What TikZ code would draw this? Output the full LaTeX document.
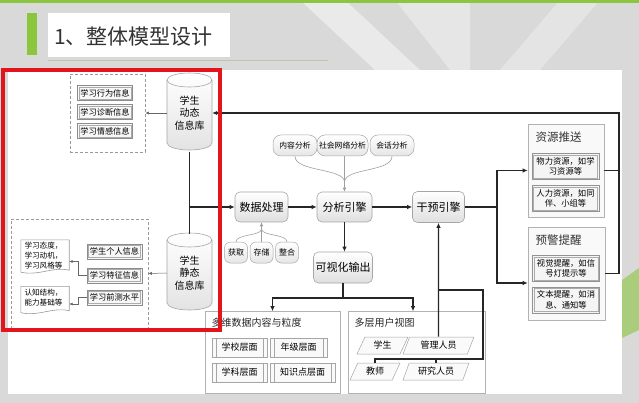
\documentclass[tikz,border=0pt]{standalone}
\usepackage{fontspec}
\setmainfont{Noto Sans CJK SC}
\usetikzlibrary{shapes.geometric,arrows.meta,calc}
\definecolor{bggray}{HTML}{D9D9D9}
\definecolor{tgreen}{HTML}{8CC63F}
\definecolor{uline}{HTML}{BCC6A8}
\definecolor{redframe}{HTML}{E3141B}
\begin{document}
\begin{tikzpicture}[x=1pt,y=-1pt,
  line/.style={draw=black!85, line width=1.1pt},
  arr/.style={line, -{Latex[length=5pt,width=4.5pt]}},
  thinarr/.style={draw=black!60, line width=0.5pt, -{Latex[length=3.5pt,width=3pt]}},
  rbox/.style={draw=gray!70, line width=0.6pt, rounded corners=5pt, top color=white, bottom color=gray!25, font=\fontsize{11}{13}\selectfont, inner sep=0pt},
  pill/.style={draw=gray!70, line width=0.5pt, rounded corners=8pt, top color=white, bottom color=gray!20, font=\fontsize{7.8}{9}\selectfont, inner sep=0pt, minimum height=21pt},
  dashbox/.style={draw=gray!80, line width=0.7pt, dash pattern=on 3pt off 2pt},
  dblframe/.style={path picture={\draw[gray!65, line width=0.4pt] ([shift={(1.6pt,-1.6pt)}]path picture bounding box.north west) rectangle ([shift={(-1.6pt,1.6pt)}]path picture bounding box.south east);}},
  infobox/.style={draw=gray!90, line width=0.7pt, fill=gray!6, dblframe, font=\fontsize{8.2}{10}\selectfont, inner sep=0pt, minimum width=55pt, minimum height=15pt},
  docnode/.style={font=\fontsize{7.6}{9.6}\selectfont, align=left, inner sep=0pt, minimum width=48pt},
  docshape/.style={draw=gray!80, line width=0.6pt, fill=white},
  outerbox/.style={draw=gray!60, line width=0.7pt, fill=gray!5},
  titletext/.style={font=\fontsize{11.5}{13}\selectfont, anchor=west, text=black!80},
  innerbox/.style={draw=gray!85, line width=0.6pt, fill=gray!8, dblframe, font=\fontsize{8.3}{10.5}\selectfont, align=center, inner sep=0pt, minimum width=67pt},
  grpbox/.style={draw=gray!60, line width=0.6pt, fill=white},
  grplabel/.style={font=\fontsize{10}{12}\selectfont, anchor=west, text=black!85},
  ppbox/.style={draw=gray!70, line width=0.5pt, fill=gray!5, minimum height=19pt, inner sep=0pt, font=\fontsize{9}{11}\selectfont,
    path picture={\draw[gray!70, line width=0.5pt] ([xshift=4pt]path picture bounding box.north west) -- ([xshift=4pt]path picture bounding box.south west);
                  \draw[gray!70, line width=0.5pt] ([xshift=-4pt]path picture bounding box.north east) -- ([xshift=-4pt]path picture bounding box.south east);}},
  para/.style={trapezium, trapezium left angle=64, trapezium right angle=116, trapezium stretches=true, draw=gray!70, line width=0.5pt, fill=gray!4, minimum height=17pt, inner sep=0pt, font=\fontsize{9}{11}\selectfont},
  cylstyle/.style={draw=gray!70, line width=0.6pt, top color=white, bottom color=gray!22},
  cylnode/.style={minimum width=45pt, minimum height=77pt, inner sep=0pt, align=center, font=\fontsize{10}{12.5}\selectfont}
]
\useasboundingbox (0,0) rectangle (639,403);
% background
\fill[bggray] (0,0) rectangle (639,403);
\fill[white,opacity=0.45] (300,0) -- (345,0) -- (420,70) -- (375,70) -- cycle;
\fill[white,opacity=0.35] (395,0) -- (470,0) -- (470,70) -- (450,70) -- cycle;
\fill[white,opacity=0.30] (560,0) -- (600,0) -- (540,70) -- (500,70) -- cycle;
\fill[tgreen,opacity=0.6] (622,280) -- (639,268) -- (639,330) -- (622,338) -- cycle;
\fill[tgreen] (0,0) rectangle (639,3);
\fill[white] (8,70) rectangle (622,394);
% title
\fill[tgreen] (27,13) rectangle (37,55);
\fill[white] (48,13) rectangle (230,57);
\node[font=\fontsize{21}{24}\selectfont, text=black!80, anchor=west, inner sep=0pt] (title) at (54,37) {1、整体模型设计};
\draw[uline, line width=1pt] (48,61) -- (328,61);

% cylinders
\path[cylstyle] (167,80) -- (167,143) .. controls (167,146.87) and (177.07,150) .. (189.5,150) .. controls (201.93,150) and (212,146.87) .. (212,143) -- (212,80) .. controls (212,76.13) and (201.93,73) .. (189.5,73) .. controls (177.07,73) and (167,76.13) .. (167,80) -- cycle;
\draw[gray!70, line width=0.6pt] (167,80) .. controls (167,83.87) and (177.07,87) .. (189.5,87) .. controls (201.93,87) and (212,83.87) .. (212,80);
\path[cylstyle] (167,240) -- (167,303) .. controls (167,306.87) and (177.07,310) .. (189.5,310) .. controls (201.93,310) and (212,306.87) .. (212,303) -- (212,240) .. controls (212,236.13) and (201.93,233) .. (189.5,233) .. controls (177.07,233) and (167,236.13) .. (167,240) -- cycle;
\draw[gray!70, line width=0.6pt] (167,240) .. controls (167,243.87) and (177.07,247) .. (189.5,247) .. controls (201.93,247) and (212,243.87) .. (212,240);
\node[cylnode] (dyn) at (189.5,113) {学生\\动态\\信息库};
\node[cylnode] (sta) at (189.5,273) {学生\\静态\\信息库};

% dashed box 1
\node[dashbox, minimum width=75pt, minimum height=78pt] (db1) at (107.5,113) {};
\node[infobox] (i1) at (105,93) {学习行为信息};
\node[infobox] (i2) at (105,112) {学习诊断信息};
\node[infobox] (i3) at (105,131) {学习情感信息};

% dashed box 2
\node[dashbox, minimum width=137pt, minimum height=109pt] (db2) at (79.5,273.5) {};
\node[infobox] (s1) at (114.5,251.5) {学生个人信息};
\node[infobox] (s2) at (114.5,275.5) {学习特征信息};
\node[infobox] (s3) at (114.5,297.5) {学习前测水平};
\node[docnode, minimum height=34pt] (d1) at (45,257) {};
\node[docnode, minimum height=28pt] (d2) at (45,300.5) {};
\path[docshape] (d1.north west) -- (d1.north east) -- ($(d1.south east)+(0,-4)$) .. controls ($(d1.south)+(8,-8)$) and ($(d1.south)+(-6,2)$) .. ($(d1.south west)+(0,-2)$) -- cycle;
\path[docshape] (d2.north west) -- (d2.north east) -- ($(d2.south east)+(0,-4)$) .. controls ($(d2.south)+(8,-8)$) and ($(d2.south)+(-6,2)$) .. ($(d2.south west)+(0,-2)$) -- cycle;
\node[docnode, minimum width=0pt, anchor=north west] (d1t) at ($(d1.north west)+(3.5,2.5)$) {学习态度，\\学习动机，\\学习风格等};
\node[docnode, minimum width=0pt, anchor=north west] (d2t) at ($(d2.north west)+(3.5,3)$) {认知结构，\\能力基础等};
\draw[thinarr] (s2.west) -- ++(-8,0) |- ($(d1.east)+(0,4.5)$);
\draw[thinarr] (s3.west) -- ++(-8,0) |- ($(d2.east)+(0,3.5)$);
\draw[thinarr] (dyn.west) -- (db1.east);
\draw[thinarr] (sta.west) -- (db2.east);

% process nodes
\node[rbox, minimum width=53pt, minimum height=30pt] (dp) at (261.5,207) {数据处理};
\node[rbox, minimum width=55pt, minimum height=30pt] (ae) at (344.5,207) {分析引擎};
\node[rbox, minimum width=52pt, minimum height=31pt] (ie) at (438.5,207) {干预引擎};
\node[rbox, minimum width=59pt, minimum height=31pt] (vo) at (343,267.5) {可视化输出};

\node[pill, minimum width=44pt] (o1) at (295,145.5) {内容分析};
\node[pill, minimum width=51pt] (o2) at (342.5,145.5) {社会网络分析};
\node[pill, minimum width=44pt] (o3) at (392,145.5) {会话分析};

\node[pill, rounded corners=6pt, minimum width=23pt, font=\fontsize{8}{9}\selectfont] (g1) at (236,252.5) {获取};
\node[pill, rounded corners=6pt, minimum width=23pt, font=\fontsize{8}{9}\selectfont] (g2) at (261.5,252.5) {存储};
\node[pill, rounded corners=6pt, minimum width=23pt, font=\fontsize{8}{9}\selectfont] (g3) at (287,252.5) {整合};

% analysis inputs
\coordinate (cv1) at (344.5,182);
\draw[draw=gray!75, line width=0.6pt] (o1.south) .. controls (295,172) and (344.5,168) .. (cv1);
\draw[draw=gray!75, line width=0.6pt] (o3.south) .. controls (392,172) and (344.5,168) .. (cv1);
\draw[draw=gray!75, line width=0.6pt, -{Latex[length=4pt,width=3.5pt]}] (ae.north |- o2.south) -- (ae.north);
\coordinate (cv2) at (261.5,229);
\draw[draw=gray!75, line width=0.6pt] (g1.north) .. controls (236,234) and (261.5,236) .. (cv2);
\draw[draw=gray!75, line width=0.6pt] (g3.north) .. controls (287,234) and (261.5,236) .. (cv2);
\draw[draw=gray!75, line width=0.6pt, -{Latex[length=4pt,width=3.5pt]}] (g2.north) -- (dp.south);

% main flow
\coordinate (j1) at (189.5,207);
\draw[line] (dyn.south) -- (sta.north);
\draw[arr] (j1) -- (dp.west);
\draw[arr] (dp.east) -- (ae.west);
\draw[arr] (ae.east) -- (ie.west);
\draw[arr] (ae.south) -- (ae.south |- vo.north);

% right boxes
\node[outerbox, minimum width=76pt, minimum height=93pt] (res) at (566,170.5) {};
\node[titletext] (rest) at (532,137) {资源推送};
\node[innerbox, minimum height=26pt] (r1) at (565.5,166.5) {物力资源，如学\\习资源等};
\node[innerbox, minimum height=26pt] (r2) at (565.5,198.5) {人力资源，如同\\伴、小组等};
\node[outerbox, minimum width=77pt, minimum height=93pt] (warn) at (566.5,273.5) {};
\node[titletext] (warnt) at (532,240) {预警提醒};
\node[innerbox, minimum height=26pt] (w1) at (566,268.5) {视觉提醒，如信\\号灯提示等};
\node[innerbox, minimum height=26pt] (w2) at (566,300) {文本提醒，如消\\息、通知等};

\coordinate (j2) at (497,207);
\draw[line] (ie.east) -- (j2);
\draw[arr] (j2) |- (res.west);
\draw[arr] (j2) |- ($(warn.west)+(0,9.5)$);
\coordinate (fbR) at (619,113);
\draw[arr] (res.east) -| (fbR) -- (dyn.east);
\draw[line] (warn.east) -| (fbR);

% bottom groups
\node[grpbox, minimum width=135pt, minimum height=82pt] (mb) at (272.5,352.5) {};
\node[grplabel] (mbl) at (208,323) {多维数据内容与粒度};
\node[ppbox, minimum width=55pt] (c1) at (239.5,347.5) {学校层面};
\node[ppbox, minimum width=57pt] (c2) at (298.5,347.5) {年级层面};
\node[ppbox, minimum width=55pt] (c3) at (239.5,372.5) {学科层面};
\node[ppbox, minimum width=65pt] (c4) at (302.5,372.5) {知识点层面};

\node[grpbox, minimum width=137pt, minimum height=82pt] (mu) at (416.5,352.5) {};
\node[grplabel] (mul) at (351,323) {多层用户视图};
\node[para, minimum width=51pt] (p1) at (382.5,345.5) {学生};
\node[para, minimum width=71pt] (p2) at (438.5,345.5) {管理人员};
\node[para, minimum width=50pt] (p3) at (375,371.5) {教师};
\node[para, minimum width=66pt] (p4) at (436,371.5) {研究人员};

\coordinate (j3) at (343,298);
\draw[line] (vo.south) -- (j3);
\draw[arr] (j3) -| (mb.north);
\draw[arr] (j3) -| ($(mu.north)+(-3.5,0)$);
\draw[arr] (p2.north) -- (ie.south);
\coordinate (lp) at (483,359);
\coordinate (lq) at (438.5,290);
\draw[line] (p3.north) |- (lp) |- (lq);
\draw[line] (p4.north) -- (p4.north |- lp);

% red frame
\draw[redframe, line width=3.5pt] (3,70) rectangle (220,330);
\end{tikzpicture}
\end{document}
